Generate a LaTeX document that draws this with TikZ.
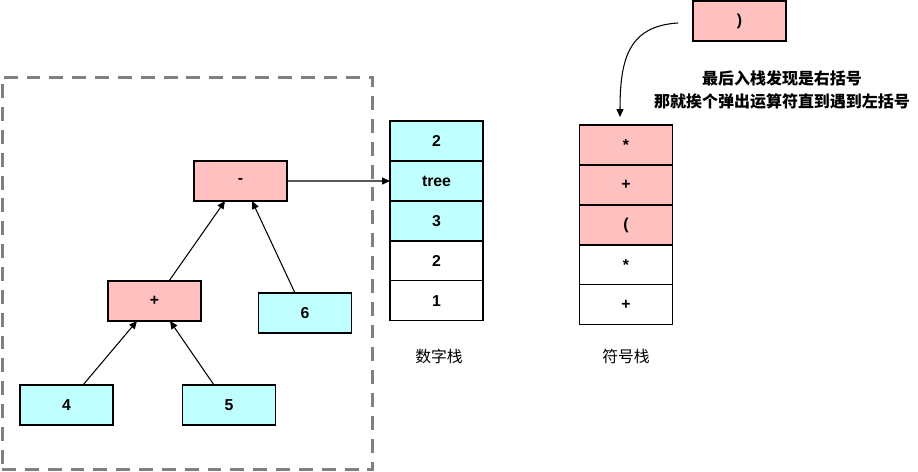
\documentclass[tikz,border=0pt]{standalone}
\usepackage{fontspec}
\setmainfont{Liberation Sans}
\newfontfamily\cjk{Noto Sans CJK SC}
\usetikzlibrary{arrows.meta, positioning}
\definecolor{LightRed}{RGB}{255,192,192}
\definecolor{LightCyan}{RGB}{192,255,255}
\definecolor{FrameGray}{RGB}{128,128,128}

\begin{document}
\begin{tikzpicture}[
    x=0.02cm, y=-0.02cm,
    font=\fontsize{9}{11}\selectfont\bfseries,
    box/.style={draw, line width=0.6pt, minimum width=1.86cm, minimum height=0.8cm,
        inner sep=0pt, outer sep=0pt},
    op/.style={box, fill=LightRed},
    num/.style={box, fill=LightCyan},
    cell/.style={box, fill=white},
    lbl/.style={font=\cjk\fontsize{9}{11}\selectfont},
    note/.style={font=\cjk\bfseries\fontsize{9.1}{13.6}\selectfont, align=center},
    flow/.style={-{Triangle[length=4.5pt, width=4pt]}, line width=0.6pt},
    frame/.style={draw=FrameGray, line width=1.7pt, dash pattern=on 7.9pt off 5.1pt,
        minimum width=7.42cm, minimum height=7.86cm, outer sep=0pt},
]
\useasboundingbox (0,0) rectangle (918,472);

% ================= arbol de la expresion =================
\node[frame] (group) at (187.5,273.5) {};
\node[op] (minus) at (240.5,181) {-};
\node[op] (plus) at (154.5,301) {+};
\node[num] (six) at (305,313) {6};
\node[num] (four) at (66.5,405) {4};
\node[num] (five) at (229,405) {5};
\draw[flow] ([xshift=0.29cm]plus.north) -- ([xshift=-0.31cm]minus.south);
\draw[flow] ([xshift=-0.2cm]six.north) -- ([xshift=0.23cm]minus.south);
\draw[flow] ([xshift=0.33cm]four.north) -- ([xshift=-0.35cm]plus.south);
\draw[flow] ([xshift=-0.3cm]five.north) -- ([xshift=0.31cm]plus.south);

% ================= pila de numeros =================
\node[num] (n5) at (436.5,141) {2};
\node[num, below=0pt of n5] (n4) {tree};
\node[num, below=0pt of n4] (n3) {3};
\node[cell, below=0pt of n3] (n2) {2};
\node[cell, below=0pt of n2] (n1) {1};
\node[lbl] (numlbl) at (439,356) {数字栈};
\draw[flow] (minus.east) -- (n4.west);

% ================= pila de simbolos =================
\node[op] (s5) at (626,145) {*};
\node[op, below=0pt of s5] (s4) {+};
\node[op, below=0pt of s4] (s3) {(};
\node[cell, below=0pt of s3] (s2) {*};
\node[cell, below=0pt of s2] (s1) {+};
\node[lbl] (symlbl) at (626,356) {符号栈};

% parentesis derecho que entra
\node[op] (rp) at (739.5,21) {)};
\coordinate (drop) at (620,117);
\draw[flow] ([xshift=-0.3cm, yshift=-0.04cm]rp.west) .. controls (628,26) and (620,60) .. (drop);
\node[note] (rule) at (782,90) {最后入栈发现是右括号\\那就挨个弹出运算符直到遇到左括号};

\end{tikzpicture}
\end{document}
